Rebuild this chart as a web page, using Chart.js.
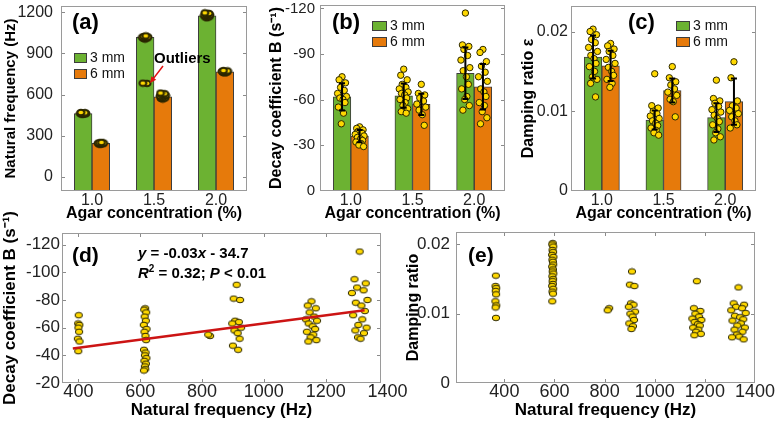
<!DOCTYPE html>
<html><head><meta charset="utf-8">
<script src="https://cdn.jsdelivr.net/npm/chart.js@4.4.1/dist/chart.umd.min.js"></script>
<style>
html,body{margin:0;padding:0;background:#fff;overflow:hidden;}
#wrap{position:relative;width:776px;height:424px;overflow:hidden;background:#fff;}
canvas{position:absolute;}
</style></head>
<body><div id="wrap"></div>
<script>
// ================= DATA =================
const concentrations = ['1.0', '1.5', '2.0'];
const seriesNames = ['3 mm', '6 mm'];

// (a) natural frequency (Hz)
const freqTicks = [0, 300, 600, 900, 1200];
const freqMean3 = [463, 1017, 1175];
const freqMean6 = [245, 585, 767];
const freqPts3 = [
  [456, 458, 460, 461, 462, 463, 464, 465, 466, 468, 470],
  [1005, 1010, 1013, 1015, 1017, 1019, 1021, 1024, 1028, 682, 684],
  [1160, 1165, 1168, 1172, 1175, 1178, 1181, 1184, 1188, 1192, 1196]
];
const freqPts6 = [
  [238, 240, 242, 244, 245, 246, 248, 250, 252],
  [568, 572, 576, 580, 585, 590, 594, 598, 603, 607, 612],
  [758, 761, 764, 766, 768, 770, 773, 776]
];

// (b) decay coefficient B (1/s)
const decayTicks = [-120, -90, -60, -30, 0];
const decayMean3 = [-61.8, -62.5, -77.3];
const decayMean6 = [-35.9, -56.8, -68.4];
const decaySd3 = [9, 8, 17];
const decaySd6 = [4, 7, 15];
const decayPts3 = [
  [-75, -73, -71, -68, -66, -64, -62, -61, -60, -58, -55, -51, -44],
  [-80, -76, -73, -70, -68, -67, -65, -64, -63, -61, -60, -58, -56, -54, -52, -51],
  [-117, -96, -95, -93, -89, -86, -81, -79, -75, -70, -67, -62, -60, -56, -53]
];
const decayPts6 = [
  [-42, -41, -40, -39, -38, -37, -36, -35, -34, -33, -32, -31, -30, -29],
  [-70, -64, -63, -61, -59, -57, -55, -53, -50, -43],
  [-93, -91, -85, -82, -78, -75, -72, -67, -65, -62, -58, -56, -52, -48, -44]
];

// (c) damping ratio
const dampTicks = [0, 0.01, 0.02];
const dampMean3 = [0.0168, 0.0089, 0.0092];
const dampMean6 = [0.0157, 0.0126, 0.0112];
const dampSd3 = [0.0027, 0.0012, 0.0018];
const dampSd6 = [0.0019, 0.0015, 0.0029];
const dampPts3 = [
  [0.0203, 0.0200, 0.0196, 0.0190, 0.0186, 0.0180, 0.0175, 0.0170, 0.0166, 0.0160, 0.0156, 0.0150, 0.0143, 0.0140, 0.0135, 0.0118],
  [0.0147, 0.0107, 0.0104, 0.0100, 0.0097, 0.0094, 0.0091, 0.0088, 0.0085, 0.0082, 0.0079, 0.0076, 0.0073, 0.0070],
  [0.0139, 0.0116, 0.0113, 0.0110, 0.0106, 0.0102, 0.0099, 0.0095, 0.0091, 0.0087, 0.0083, 0.0078, 0.0073, 0.0068, 0.0064]
];
const dampPts6 = [
  [0.0185, 0.0182, 0.0178, 0.0175, 0.0170, 0.0165, 0.0160, 0.0155, 0.0150, 0.0145, 0.0140, 0.0135, 0.0130],
  [0.0156, 0.0142, 0.0137, 0.0133, 0.0128, 0.0124, 0.0120, 0.0115, 0.0112, 0.0093],
  [0.0162, 0.0142, 0.0113, 0.0107, 0.0104, 0.0101, 0.0097, 0.0093, 0.0088, 0.0083, 0.0079]
];

// (d) decay coefficient vs natural frequency
const natFreqTicks = [400, 600, 800, 1000, 1200, 1400];
const decayVsTicks = [-120, -100, -80, -60, -40, -20];
const decayFreqGroups = [401, 616, 826, 912, 1154, 1310];
const decayByFreq = [
  [-69, -63, -62, -60, -57, -52, -50, -43],
  [-74, -73, -71, -68, -65, -62, -59, -57, -54, -51, -44, -42, -40, -38, -36, -34, -32, -30, -29],
  [-54, -55],
  [-91, -81, -80, -65, -64, -63, -60, -58, -56, -52, -47, -44],
  [-79, -76, -74, -71, -68, -66, -65, -63, -61, -59, -57, -55, -53, -51, -50],
  [-115, -95, -92, -89, -87, -85, -80, -78, -76, -72, -69, -66, -62, -60, -58, -56, -53, -52]
];
const fitLine = [{x: 382, y: -45}, {x: 1326, y: -72.5}];

// (e) damping ratio vs natural frequency
const dampVsTicks = [0, 0.01, 0.02];
const dampFreqGroups = [366, 593, 818, 909, 1168, 1334];
const dampByFreq = [
  [0.0155, 0.0140, 0.0137, 0.0133, 0.0128, 0.0118, 0.0112, 0.0109, 0.0094],
  [0.0202, 0.0200, 0.0197, 0.0192, 0.0189, 0.0185, 0.0182, 0.0178, 0.0175, 0.0171, 0.0168, 0.0164, 0.0161, 0.0158, 0.0154, 0.0150, 0.0147, 0.0143, 0.0140, 0.0136, 0.0132, 0.0129, 0.0118],
  [0.0108, 0.0105],
  [0.0161, 0.0142, 0.0140, 0.0115, 0.0113, 0.0110, 0.0103, 0.0100, 0.0096, 0.0091, 0.0086, 0.0082, 0.0078],
  [0.0147, 0.0108, 0.0104, 0.0100, 0.0096, 0.0093, 0.0091, 0.0088, 0.0085, 0.0083, 0.0080, 0.0077, 0.0074, 0.0071, 0.0069],
  [0.0138, 0.0115, 0.0113, 0.0110, 0.0108, 0.0105, 0.0101, 0.0097, 0.0095, 0.0092, 0.0090, 0.0086, 0.0083, 0.0080, 0.0077, 0.0074, 0.0070, 0.0067, 0.0066, 0.0063]
];

// ================= STYLE / HELPERS =================
const FONT = "'Liberation Sans', Arial, Helvetica, sans-serif";
const GREEN = '#6CB232', ORANGE = '#E67A0B', DOT = '#FFD800', EDGE = '#2b2700';
const BAR_PCT = 0.57, BAR_OFF = BAR_PCT / 4;
// fixed horizontal scatter pattern for the overlaid dots (display jitter only)
const JIT = [0, -0.6, 0.7, -0.3, 0.45, -0.9, 0.9, -0.45, 0.2, 0.6, -0.75, 0.3, -0.15, 0.8, -0.5, 0.5, -0.2, 0.1, -0.8, 0.65, -0.35, 0.35, -0.65, 0.15];

function barDots(groups, side, amp) {
  const out = [];
  groups.forEach((vals, i) => vals.forEach((v, k) => out.push({x: i + side * BAR_OFF + JIT[k % JIT.length] * amp, y: v})));
  return out;
}
function barPoints(vals, side) {
  return vals.map((v, i) => ({x: i + side * BAR_OFF, y: v}));
}
function groupDots(xs, groups, amps) {
  const out = [];
  groups.forEach((vals, g) => vals.forEach((v, k) => out.push({x: xs[g] + JIT[k % JIT.length] * amps[g], y: v})));
  return out;
}
function ellipseDot(w, h, cw, ch, lw) {
  const c = document.createElement('canvas'); c.width = cw; c.height = ch;
  const g = c.getContext('2d');
  g.beginPath(); g.ellipse(cw / 2, ch / 2, w / 2, h / 2, 0, 0, Math.PI * 2);
  g.fillStyle = DOT; g.fill(); g.lineWidth = lw; g.strokeStyle = EDGE; g.stroke();
  return c;
}
function makeCanvas(L, T, W, H) {
  const c = document.createElement('canvas');
  c.width = W; c.height = H;
  c.style.left = L + 'px'; c.style.top = T + 'px';
  c.style.width = W + 'px'; c.style.height = H + 'px';
  document.getElementById('wrap').appendChild(c);
  return c;
}
function drawParts(ctx, parts, x, y) {
  let cx = x;
  parts.forEach(([txt, style, size, dy]) => {
    ctx.font = style + ' ' + size + 'px ' + FONT;
    ctx.fillText(txt, cx, y + (dy || 0));
    cx += ctx.measureText(txt).width;
  });
}

const decoPlugin = {
  id: 'deco',
  afterDatasetsDraw(chart) {
    const ctx = chart.ctx, ys = chart.scales.y;
    chart.data.datasets.forEach((ds, i) => {
      if (!ds.errors) return;
      const meta = chart.getDatasetMeta(i);
      meta.data.forEach((el, j) => {
        const m = ds.data[j].y, e = ds.errors[j];
        const y1 = ys.getPixelForValue(m - e), y2 = ys.getPixelForValue(m + e);
        ctx.save();
        ctx.strokeStyle = '#000'; ctx.lineWidth = 2;
        ctx.beginPath();
        ctx.moveTo(el.x, y1); ctx.lineTo(el.x, y2);
        ctx.moveTo(el.x - 3, y1); ctx.lineTo(el.x + 3, y1);
        ctx.moveTo(el.x - 3, y2); ctx.lineTo(el.x + 3, y2);
        ctx.stroke(); ctx.restore();
      });
    });
  },
  afterDraw(chart, args, o) {
    const ctx = chart.ctx, ca = chart.chartArea;
    const X = v => v - o.L, Y = v => v - o.T;
    ctx.save();
    // inner tick marks
    ctx.strokeStyle = '#8a8a8a'; ctx.lineWidth = 1;
    ctx.beginPath();
    chart.scales.y.ticks.forEach(t => {
      const py = Math.round(chart.scales.y.getPixelForValue(t.value)) + 0.5;
      if (py < ca.top + 2 || py > ca.bottom - 2) return;
      ctx.moveTo(ca.left, py); ctx.lineTo(ca.left + 4, py);
      ctx.moveTo(ca.right - 4, py); ctx.lineTo(ca.right, py);
    });
    if (o.xTicks) {
      chart.scales.x.ticks.forEach(t => {
        const px = Math.round(chart.scales.x.getPixelForValue(t.value)) + 0.5;
        if (px < ca.left + 2 || px > ca.right - 2) return;
        ctx.moveTo(px, ca.bottom); ctx.lineTo(px, ca.bottom - 4);
        ctx.moveTo(px, ca.top); ctx.lineTo(px, ca.top + 4);
      });
    }
    ctx.stroke();
    // box
    ctx.strokeStyle = '#9a9a9a';
    ctx.strokeRect(ca.left + 0.5, ca.top + 0.5, ca.right - ca.left - 1, ca.bottom - ca.top - 1);
    // panel label
    ctx.fillStyle = '#000'; ctx.textBaseline = 'alphabetic'; ctx.textAlign = 'left';
    if (o.label) {
      ctx.font = 'bold ' + o.label.size + 'px ' + FONT;
      ctx.fillText(o.label.text, X(o.label.x), Y(o.label.y));
    }
    // legend
    if (o.legend) {
      const bars = chart.data.datasets.filter(d => d.type === 'bar');
      bars.forEach((d, k) => {
        const sx = X(o.legend.x), sy = Y(o.legend.y) + k * 16;
        ctx.fillStyle = d.backgroundColor;
        ctx.fillRect(sx, sy, o.legend.w, 10);
        ctx.strokeStyle = '#3d3d3d'; ctx.lineWidth = 1;
        ctx.strokeRect(sx + 0.5, sy + 0.5, o.legend.w - 1, 9);
        ctx.fillStyle = '#111'; ctx.font = '14px ' + FONT; ctx.textBaseline = 'middle';
        ctx.fillText(d.label, sx + o.legend.w + 3, sy + 5.5);
      });
      ctx.textBaseline = 'alphabetic';
    }
    // free texts
    (o.texts || []).forEach(t => { ctx.fillStyle = t.color || '#000'; drawParts(ctx, t.parts, X(t.x), Y(t.y)); });
    // arrow
    if (o.arrow) {
      const a = o.arrow, x1 = X(a.x1), y1 = Y(a.y1), x2 = X(a.x2), y2 = Y(a.y2);
      const ang = Math.atan2(y2 - y1, x2 - x1);
      ctx.strokeStyle = a.color; ctx.fillStyle = a.color; ctx.lineWidth = 1.5;
      ctx.beginPath(); ctx.moveTo(x1, y1); ctx.lineTo(x2 - 3 * Math.cos(ang), y2 - 3 * Math.sin(ang)); ctx.stroke();
      ctx.beginPath(); ctx.moveTo(x2, y2);
      ctx.lineTo(x2 - 7 * Math.cos(ang - 0.45), y2 - 7 * Math.sin(ang - 0.45));
      ctx.lineTo(x2 - 7 * Math.cos(ang + 0.45), y2 - 7 * Math.sin(ang + 0.45));
      ctx.closePath(); ctx.fill();
    }
    ctx.restore();
  }
};

function baseOpts(p) {
  return {
    responsive: false, animation: false, devicePixelRatio: 1,
    layout: {padding: {left: 0, top: p.plot.t - p.T, right: p.L + p.W - p.plot.r, bottom: 0}},
    plugins: {legend: {display: false}, tooltip: {enabled: false}, deco: Object.assign({L: p.L, T: p.T}, p.deco)},
  };
}
function yScale(p) {
  const yW = p.plot.l - p.L;
  return {
    type: 'linear', min: p.yMin, max: p.yMax, reverse: !!p.reverse,
    grid: {display: false, drawTicks: false}, border: {display: false},
    ticks: {font: {family: FONT, size: p.yTickSize}, color: '#222', padding: p.yTickPad, autoSkip: false, callback: v => String(v)},
    afterBuildTicks: s => { s.ticks = p.yTicks.map(v => ({value: v})); },
    title: {display: true, text: p.yTitle, font: {family: FONT, size: p.yTitleSize, weight: 'bold'}, color: '#000', padding: {top: p.yTitlePad, bottom: 0}},
    afterFit: s => { s.width = yW; }
  };
}
function xTitle(text, size, pad) {
  return {display: true, text: text, font: {family: FONT, size: size, weight: 'bold'}, color: '#000', padding: {top: 0, bottom: pad}};
}

function barPanel(p) {
  const cv = makeCanvas(p.L, p.T, p.W, p.H);
  const xH = p.T + p.H - p.plot.b;
  const thick = (p.plot.r - p.plot.l) / concentrations.length * BAR_PCT / 2;
  const dotStyle = p.dotImg ? {pointStyle: p.dotImg, pointRadius: 4} : {pointRadius: p.r, pointBackgroundColor: DOT, pointBorderColor: EDGE, pointBorderWidth: 1};
  const barStyle = {borderColor: '#3d3d3d', borderWidth: 1, base: p.base, grouped: false, barThickness: thick, order: 2};
  const datasets = [
    Object.assign({type: 'bar', label: seriesNames[0], data: barPoints(p.mean3, -1), errors: p.sd3, backgroundColor: GREEN}, barStyle),
    Object.assign({type: 'bar', label: seriesNames[1], data: barPoints(p.mean6, 1), errors: p.sd6, backgroundColor: ORANGE}, barStyle),
    Object.assign({type: 'scatter', data: barDots(p.pts3, -1, p.amp), order: 0}, dotStyle),
    Object.assign({type: 'scatter', data: barDots(p.pts6, 1, p.amp), order: 0}, dotStyle)
  ];
  const opts = baseOpts(p);
  opts.scales = {
    x: {type: 'linear', min: -0.5, max: concentrations.length - 0.5, offset: false,
        grid: {display: false, drawTicks: false}, border: {display: false},
        ticks: {font: {family: FONT, size: 16}, color: '#222', padding: 0, autoSkip: false, maxRotation: 0,
                callback: v => concentrations[v] !== undefined ? concentrations[v] : ''},
        afterBuildTicks: s => { s.ticks = concentrations.map((c, i) => ({value: i})); },
        title: xTitle('Agar concentration (%)', 16, 1),
        afterFit: s => { s.height = xH; }},
    y: yScale(p)
  };
  new Chart(cv, {type: 'bar', data: {datasets}, options: opts, plugins: [decoPlugin]});
}

function scatterPanel(p) {
  const cv = makeCanvas(p.L, p.T, p.W, p.H);
  const xH = p.T + p.H - p.plot.b;
  const datasets = [
    {type: 'scatter', data: groupDots(p.xs, p.groups, p.amps), pointStyle: p.dotImg, pointRadius: 4, order: 1}
  ];
  if (p.fit) datasets.push({type: 'line', data: p.fit, borderColor: '#CC1414', borderWidth: 2.5, pointRadius: 0, fill: false, order: 0});
  const opts = baseOpts(p);
  opts.plugins.deco.xTicks = true;
  opts.scales = {
    x: {type: 'linear', min: p.xMin, max: p.xMax, grid: {display: false, drawTicks: false}, border: {display: false},
        ticks: {font: {family: FONT, size: 18}, color: '#222', padding: -2, autoSkip: false, maxRotation: 0, callback: v => String(v)},
        afterBuildTicks: s => { s.ticks = natFreqTicks.map(v => ({value: v})); },
        title: xTitle('Natural frequency (Hz)', 17, 3),
        afterFit: s => { s.height = xH; }},
    y: yScale(p)
  };
  new Chart(cv, {type: 'scatter', data: {datasets}, options: opts, plugins: [decoPlugin]});
}

const dotA = ellipseDot(7, 5.4, 10, 9, 2);
const dotB = ellipseDot(7.4, 5.6, 10, 8, 1);

// (a)
barPanel({
  L: 0, T: -20, W: 272, H: 244, plot: {l: 61, t: 6, r: 247, b: 191},
  mean3: freqMean3, mean6: freqMean6, pts3: freqPts3, pts6: freqPts6, amp: 0.05, dotImg: dotA,
  base: -102, yMin: -102, yMax: 1246, yTicks: freqTicks, yTickSize: 16, yTickPad: 8,
  yTitle: 'Natural frequency (Hz)', yTitleSize: 15, yTitlePad: 2,
  deco: {label: {text: '(a)', x: 72, y: 29, size: 22}, legend: {x: 74, y: 53, w: 13},
         texts: [{parts: [['Outliers', 'bold', 15]], x: 154, y: 63}],
         arrow: {x1: 163, y1: 66, x2: 150, y2: 83, color: '#E01010'}}
});
// (b)
barPanel({
  L: 255, T: -20, W: 275, H: 244, plot: {l: 320, t: 5, r: 505, b: 191},
  mean3: decayMean3, mean6: decayMean6, sd3: decaySd3, sd6: decaySd6, pts3: decayPts3, pts6: decayPts6, amp: 0.08, r: 3.2,
  base: 0, yMin: -122.3, yMax: 0.3, reverse: true, yTicks: decayTicks, yTickSize: 15, yTickPad: 5,
  yTitle: 'Decay coefficient B (s⁻¹)', yTitleSize: 16, yTitlePad: 12,
  deco: {label: {text: '(b)', x: 332, y: 29, size: 22}, legend: {x: 372, y: 21, w: 15}}
});
// (c)
barPanel({
  L: 510, T: -20, W: 266, H: 244, plot: {l: 571, t: 6, r: 756, b: 191},
  mean3: dampMean3, mean6: dampMean6, sd3: dampSd3, sd6: dampSd6, pts3: dampPts3, pts6: dampPts6, amp: 0.08, r: 3.2,
  base: 0, yMin: 0, yMax: 0.0232, yTicks: dampTicks, yTickSize: 16, yTickPad: 3,
  yTitle: 'Damping ratio ε', yTitleSize: 16, yTitlePad: 9,
  deco: {label: {text: '(c)', x: 628, y: 29, size: 22}, legend: {x: 676, y: 21, w: 14}}
});
// (d)
scatterPanel({
  L: 0, T: 205, W: 411, H: 219, plot: {l: 62, t: 233, r: 381, b: 383},
  xs: decayFreqGroups, groups: decayByFreq, amps: [3, 5, 10, 16, 20, 28], dotImg: dotB, fit: fitLine,
  xMin: 347, xMax: 1379,
  yMin: -128.4, yMax: -20, reverse: true, yTicks: decayVsTicks, yTickSize: 17, yTickPad: 2,
  yTitle: 'Decay coefficient B (s⁻¹)', yTitleSize: 17, yTitlePad: 0,
  deco: {label: {text: '(d)', x: 72, y: 262, size: 21},
         texts: [
           {parts: [['y', 'italic bold', 15], [' = -0.03', 'bold', 15], ['x', 'italic bold', 15], [' - 34.7', 'bold', 15]], x: 138, y: 258},
           {parts: [['R', 'italic bold', 15], ['2', 'bold', 10, -6], [' = 0.32; ', 'bold', 15], ['P', 'italic bold', 15], [' < 0.01', 'bold', 15]], x: 138, y: 278}
         ]}
});
// (e)
scatterPanel({
  L: 395, T: 205, W: 381, H: 219, plot: {l: 456, t: 232, r: 755, b: 383},
  xs: dampFreqGroups, groups: dampByFreq, amps: [2, 3, 10, 14, 20, 32], dotImg: dotB,
  xMin: 207, xMax: 1400,
  yMin: 0, yMax: 0.0218, yTicks: dampVsTicks, yTickSize: 17, yTickPad: 6,
  yTitle: 'Damping ratio', yTitleSize: 16, yTitlePad: 9,
  deco: {label: {text: '(e)', x: 468, y: 262, size: 21}}
});
</script>
</body></html>
